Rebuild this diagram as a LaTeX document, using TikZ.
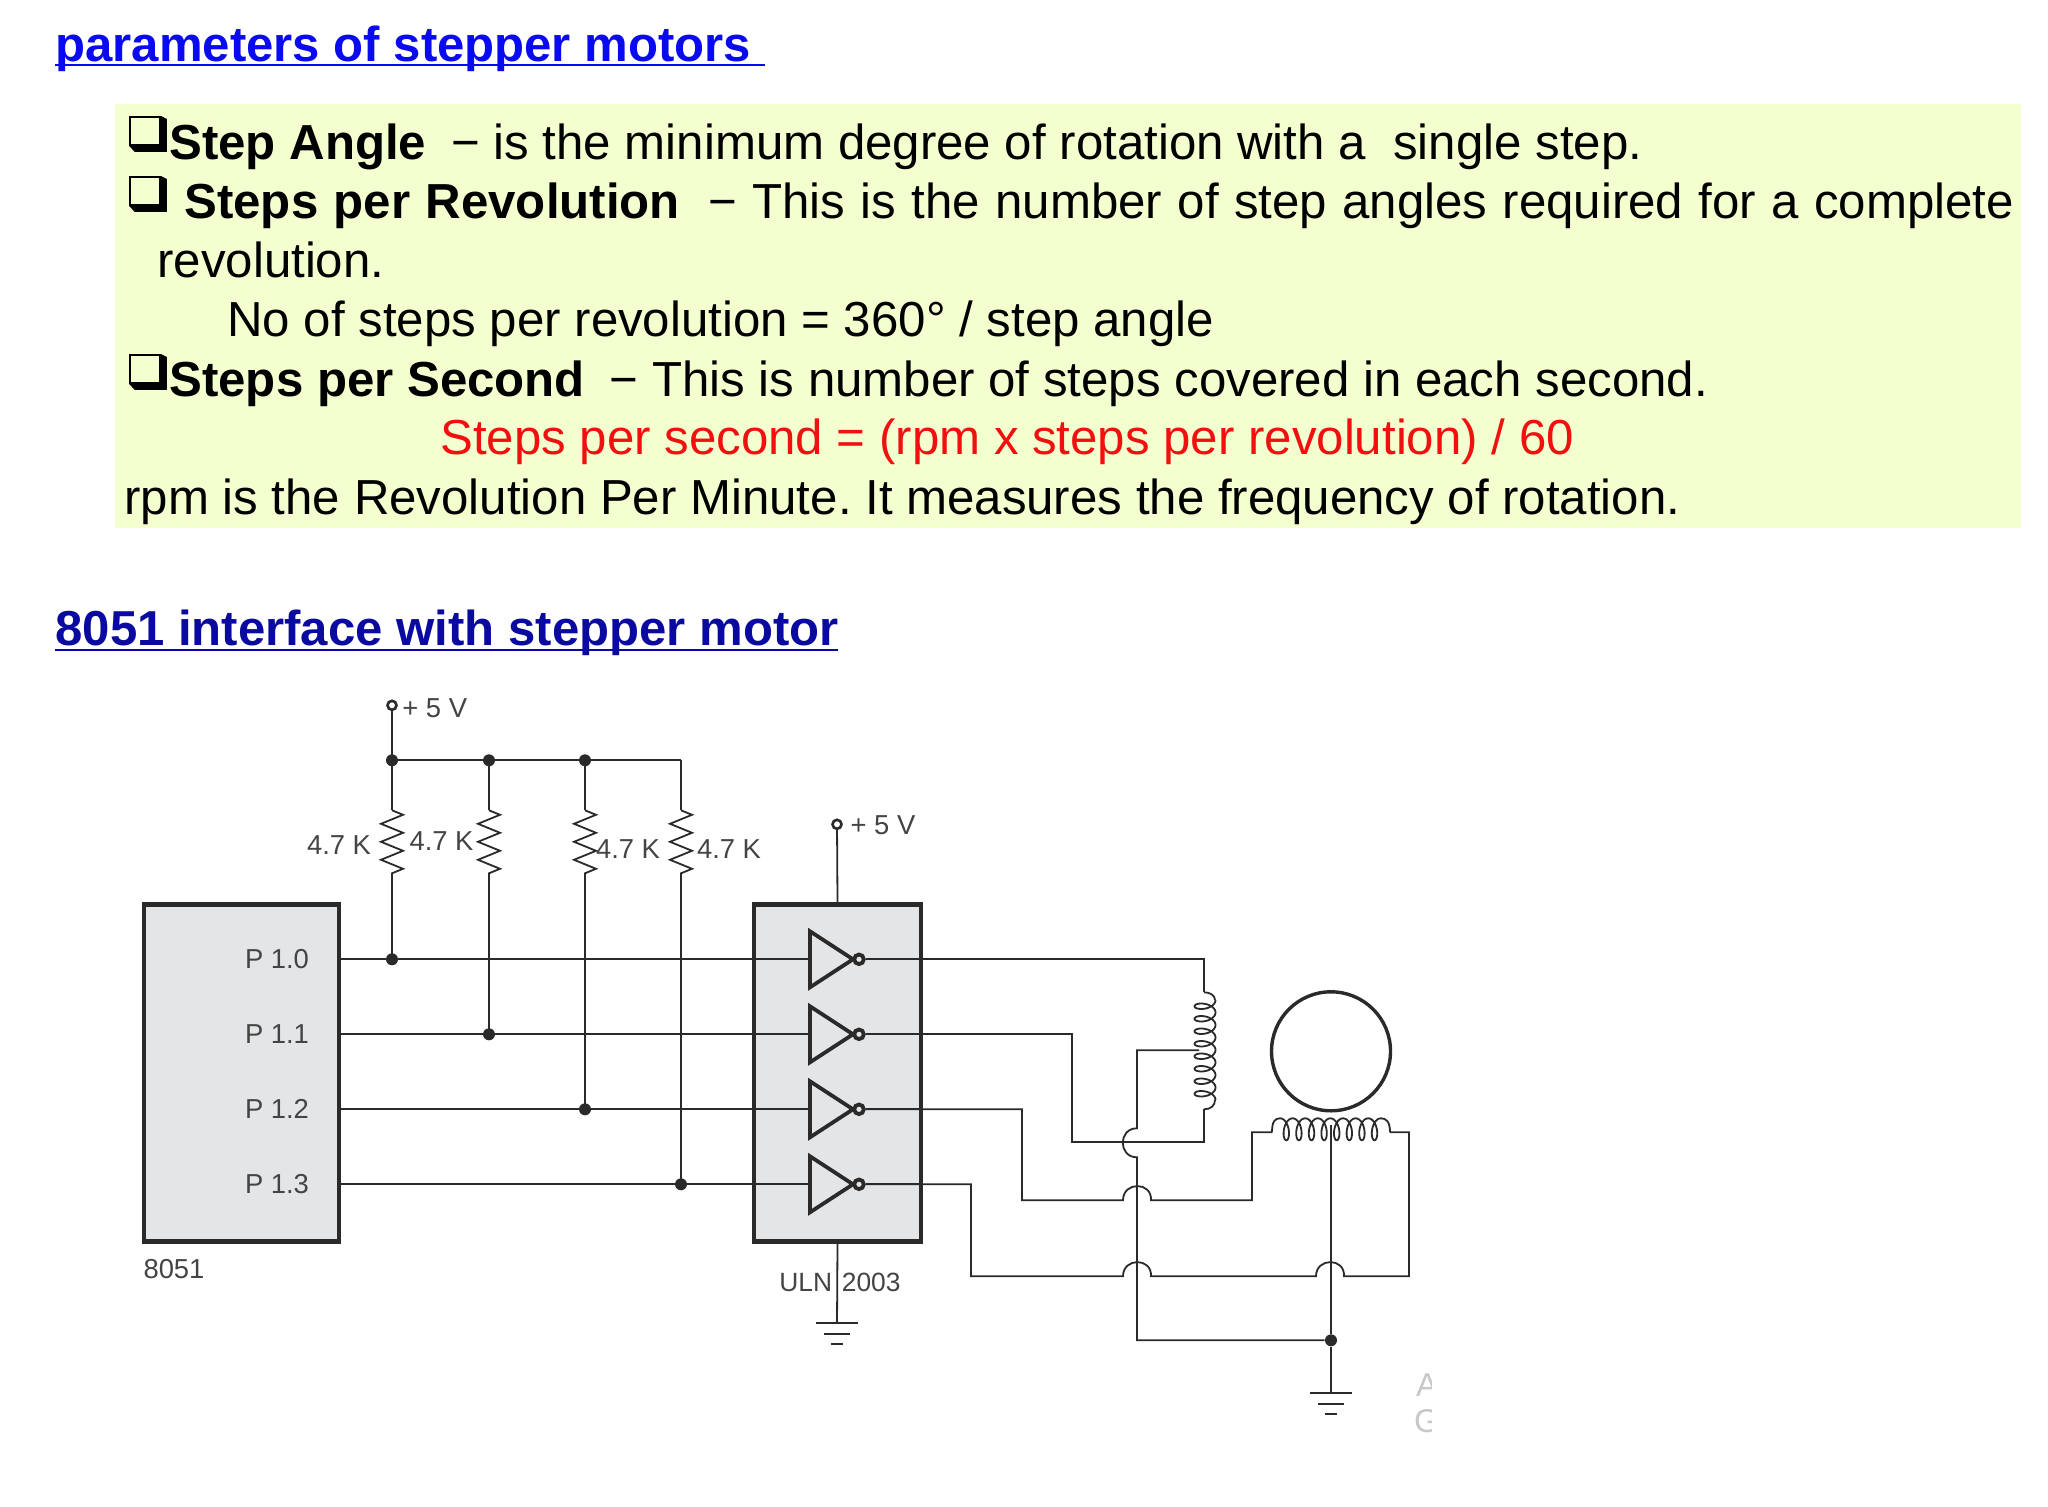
\documentclass[tikz,border=0pt]{standalone}
\usepackage{fontspec}
\setmainfont{Liberation Sans}
\usepackage{xcolor}
\usetikzlibrary{calc,decorations.pathmorphing}
\definecolor{page}{HTML}{FFFFFF}
\definecolor{notebg}{HTML}{F3FFCF}
\definecolor{headblue}{HTML}{0A0AF0}
\definecolor{headnavy}{HTML}{0A0AA0}
\definecolor{formred}{HTML}{F01010}
\definecolor{chipbg}{HTML}{E4E5E7}
\definecolor{wirecol}{HTML}{2A2A2A}
\definecolor{labcol}{HTML}{444444}
\definecolor{ghost}{HTML}{C8C8C8}
\tikzset{
  wire/.style={draw=wirecol, line width=0.9pt, line join=miter},
  chip/.style={rectangle, draw=wirecol, fill=chipbg, line width=2.3pt, inner sep=0pt},
  invert/.style={draw=wirecol, fill=chipbg, line width=1.9pt, line join=miter},
  bub/.style={circle, draw=wirecol, fill=chipbg, line width=1.9pt, minimum size=4.8pt, inner sep=0pt},
  dot/.style={circle, fill=wirecol, inner sep=0pt, minimum size=6pt},
  term/.style={circle, draw=wirecol, fill=white, line width=1.3pt, inner sep=0pt, minimum size=4.5pt},
  res/.style={wire, decorate, decoration={zigzag, amplitude=5.5pt, segment length=9pt}},
  para/.style={anchor=base west, inner sep=0pt, font=\fontsize{24.6}{29}\selectfont\frenchspacing},
  head/.style={anchor=base west, inner sep=0pt, font=\fontsize{24.55}{30}\selectfont\bfseries},
  lab/.style={text=labcol, inner sep=0pt, font=\fontsize{13.7}{16}\selectfont},
  chk/.style={rectangle, anchor=north west, draw=black, line width=0.9pt, minimum width=15pt, minimum height=14pt, inner sep=0pt},
}
\begin{document}
\begin{tikzpicture}[x=0.5pt,y=-0.5pt]
  \path[use as bounding box, fill=page] (0,0) rectangle (2048,1507);

  % top text
  \node[head, text=headblue] (headone) at (55,62) {parameters of stepper motors};
  \coordinate (ulonea) at (55,65);
  \coordinate (uloneb) at (765,65);
  \draw[headblue, line width=1.4pt] (ulonea) -- (uloneb);
  \fill[notebg] (115,104) rectangle (2021,528);
  \foreach \n/\yy in {a/116,b/176,c/354} {
    \node[chk] (chk\n) at (129,\yy) {};
    \fill[black] (chk\n.north east) -- ++(6,3) -- ++(0,33) -- ++(-32,0) -- (chk\n.south west) -- (chk\n.south east) -- cycle;
  }
  \node[para] (linea) at (169,159.5) {\textbf{Step Angle}\hspace{-1.2pt}\ \ − is the minimum degree of rotation with a \ single step.};
  \node[para] (lineb) at (184,218.5) {\spaceskip=7.7pt\textbf{Steps per Revolution}\hspace{-1.2pt}\ \ − This is the number of step angles required for a complete};
  \node[para] (linec) at (157,277.5) {revolution.};
  \node[para] (lined) at (227,337) {No of steps per revolution = 360° / step angle};
  \node[para] (linee) at (169,396.5) {\textbf{Steps per Second}\hspace{-1.2pt}\ \ − This is number of steps covered in each second.};
  \node[para, text=formred] (linef) at (440,455) {Steps per second = (rpm x steps per revolution) / 60};
  \node[para] (lineg) at (124,514.5) {rpm is the Revolution Per Minute. It measures the frequency of rotation.};
  \node[head, text=headnavy] (headtwo) at (55,645.5) {8051 interface with stepper motor};
  \coordinate (ultwoa) at (55,650);
  \coordinate (ultwob) at (838,650);
  \draw[headnavy, line width=1.4pt] (ultwoa) -- (ultwob);

  \begin{scope}[yshift=-0.65pt]
  % chips
  \node[chip, minimum width=97.5pt, minimum height=168.5pt] (mcu) at (241.5,1071.5) {};
  \node[chip, minimum width=83.5pt, minimum height=168.5pt] (uln) at (837.5,1071.5) {};
  \node[lab, text=labcol] (mculab) at (174,1268) {8051};
  \foreach \n/\yy in {0/958,1/1033,2/1108,3/1183} {
    \draw[invert] (810,\yy-28) -- (853,\yy) -- (810,\yy+28) -- cycle;
    \coordinate (in\n) at (810,\yy);
    \node[bub] (out\n) at (859,\yy) {};
    \node[lab] (pin\n) at (277,\yy) {P 1.\n};
    \draw[wire] (mcu.east |- in\n) -- (in\n);
    \draw[wire] (out\n) -- (uln.east |- out\n);
  }

  % pull ups
  \node[term] (vcca) at (392,704) {};
  \node[lab, anchor=west] (vccalab) at (402,707) {+ 5 V};
  \foreach \n/\xx/\yy/\lx/\ly in {0/392/958/339/844,1/489/1033/441.5/840,2/585/1108/628/848,3/681/1183/729/848} {
    \coordinate (bus\n) at (\xx,759);
    \coordinate (rt\n) at (\xx,809);
    \coordinate (rb\n) at (\xx,877);
    \coordinate (tap\n) at (\xx,\yy);
    \draw[wire] (bus\n) -- (rt\n);
    \draw[res] (rt\n) -- (rb\n);
    \draw[wire] (rb\n) -- (tap\n);
    \node[dot] at (tap\n) {};
    \node[lab] (rlab\n) at (\lx,\ly) {4.7 K};
  }
  \draw[wire] (vcca) -- (bus0) -- (bus3);
  \foreach \n in {0,1,2} \node[dot] at (bus\n) {};

  % uln supply and ground
  \node[term] (vccb) at (837,823) {};
  \node[lab] (vccblab) at (883,824) {+ 5 V};
  \draw[wire] (vccb) -- (uln.north);
  \node[lab, font=\fontsize{13.2}{16}\selectfont] (ulnlab) at (840,1281) {ULN\hspace{1.2pt} 2003};
  \coordinate (gnda) at (837,1322);
  \draw[wire] (uln.south) -- (gnda);
  \draw[wire] (816,1322) -- (858,1322) (824,1333) -- (850,1333) (831,1343) -- (843,1343);

  % first winding
  \coordinate (cat) at (1204,991);
  \coordinate (cab) at (1204,1108);
  \draw[wire] (out0) -- (1204,958) -- (cat);
  \draw[wire] (cat) .. controls (1210,991) and (1215,994) .. (1215,998.7)
    plot[domain=0:2880, samples=289] ({1205+10.5*cos(\x)},{998.7+\x/360*12.5+5.5*sin(\x)})
    (1215,1098.7) .. controls (1215,1104) and (1211,1108) .. (cab);
  \draw[wire] (out1) -- (1072,1033) -- (1072,1141) -- (1204,1141) -- (cab);

  % second winding
  \coordinate (cbl) at (1272,1131);
  \coordinate (cbr) at (1390,1131);
  \draw[wire] (cbl) .. controls (1272,1120) and (1275,1117) .. (1280,1117)
    plot[domain=0:2880, samples=289] ({1280+\x/360*12.6+5.5*sin(\x)},{1128-11*cos(\x)})
    (1380.8,1117) .. controls (1386,1117) and (1390,1120) .. (cbr);
  \draw[wire] (out2) -- (1022,1108) -- (1022,1199) -- (1123,1199)
    .. controls +(0,-19) and +(1,-19) .. (1151,1199) -- (1252,1199) -- (1252,1131) -- (cbl);
  \draw[wire] (out3) -- (971,1183) -- (971,1275) -- (1123,1275)
    .. controls +(0,-19) and +(1,-19) .. (1151,1275) -- (1316,1275)
    .. controls +(0,-19) and +(1,-19) .. (1344,1275) -- (1409,1275) -- (1409,1131) -- (cbr);

  % rotor and common
  \node[circle, draw=wirecol, line width=1.7pt, minimum size=59.5pt, inner sep=0pt] (rotor) at (1331,1050) {};
  \node[dot] (com) at (1331,1339) {};
  \coordinate (gndb) at (1331,1392);
  \draw[wire] (1331,1124) -- (com) -- (gndb);
  \draw[wire] (1310,1392) -- (1352,1392) (1318,1403) -- (1344,1403) (1325,1413) -- (1337,1413);
  \draw[wire] (1199,1049) -- (1137,1049) -- (1137,1127)
    .. controls +(-19,0) and +(-19,0) .. (1137,1156) -- (1137,1339) -- (com);

  % cut off letters at the edge
  \begin{scope}
    \clip (1400,1360) rectangle (1431,1440);
    \node[lab, text=ghost, font=\fontsize{16.5}{18}\selectfont] (ghosta) at (1427,1384) {A};
    \node[lab, text=ghost, font=\fontsize{16.5}{18}\selectfont] (ghostb) at (1427,1420) {G};
  \end{scope}
  \end{scope}
\end{tikzpicture}
\end{document}
